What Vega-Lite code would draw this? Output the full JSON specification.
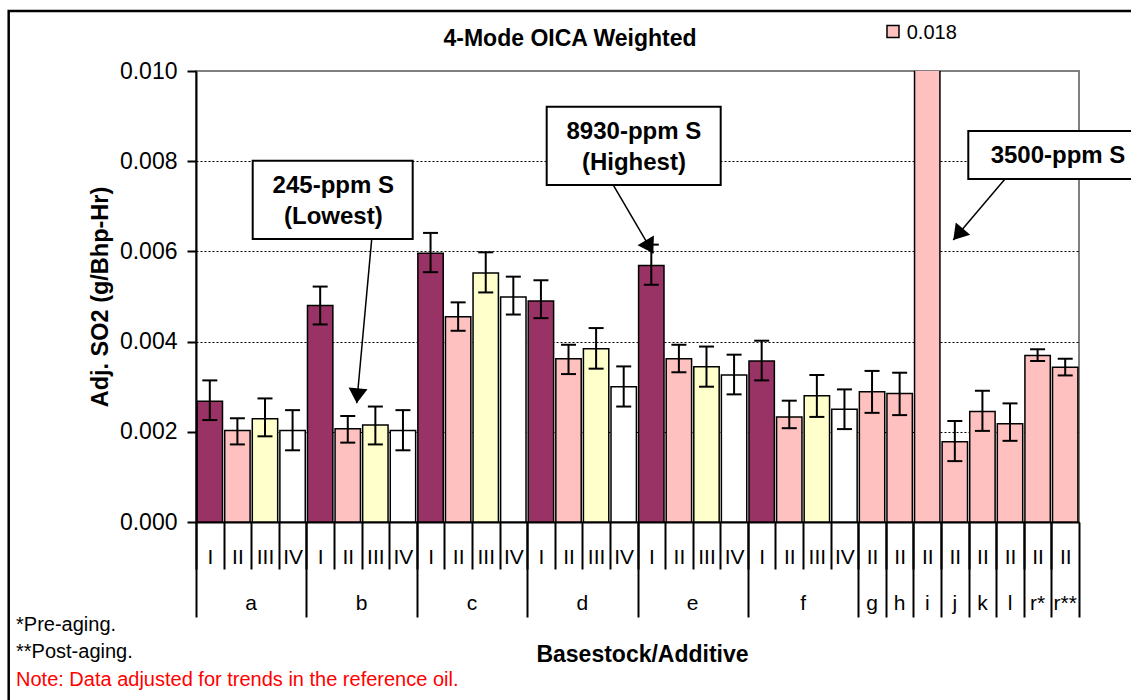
{
  "$schema": "https://vega.github.io/schema/vega-lite/v6.json",
  "width": 883,
  "height": 451,
  "autosize": {"type": "none"},
  "padding": {"left": 196, "top": 71, "right": 52, "bottom": 178},
  "background": "white",
  "title": {"text": "4-Mode OICA Weighted", "font": "Liberation Sans", "fontSize": 23, "fontWeight": "bold", "color": "black", "anchor": "middle", "frame": "group", "dx": -67.5, "baseline": "alphabetic", "offset": -59},
  "config": {
    "font": "Liberation Sans",
    "view": {"stroke": "#808080", "strokeWidth": 2},
    "axis": {"labelColor": "black", "titleColor": "black", "tickColor": "black", "domainColor": "black", "labelFont": "Liberation Sans", "titleFont": "Liberation Sans"}
  },
  "resolve": {"scale": {"x": "independent", "y": "independent"}},
  "layer": [
    {
      "data": {"values": [
        {"grp":"a","lvl":"I","bar":"a|I","v":0.00268,"lo":0.00226,"hi":0.00314},
        {"grp":"a","lvl":"II","bar":"a|II","v":0.00203,"lo":0.00172,"hi":0.00230},
        {"grp":"a","lvl":"III","bar":"a|III","v":0.00229,"lo":0.00190,"hi":0.00274},
        {"grp":"a","lvl":"IV","bar":"a|IV","v":0.00203,"lo":0.00159,"hi":0.00248},
        {"grp":"b","lvl":"I","bar":"b|I","v":0.00480,"lo":0.00438,"hi":0.00522},
        {"grp":"b","lvl":"II","bar":"b|II","v":0.00207,"lo":0.00176,"hi":0.00235},
        {"grp":"b","lvl":"III","bar":"b|III","v":0.00215,"lo":0.00172,"hi":0.00256},
        {"grp":"b","lvl":"IV","bar":"b|IV","v":0.00203,"lo":0.00159,"hi":0.00248},
        {"grp":"c","lvl":"I","bar":"c|I","v":0.00596,"lo":0.00554,"hi":0.00641},
        {"grp":"c","lvl":"II","bar":"c|II","v":0.00455,"lo":0.00424,"hi":0.00487},
        {"grp":"c","lvl":"III","bar":"c|III","v":0.00552,"lo":0.00509,"hi":0.00598},
        {"grp":"c","lvl":"IV","bar":"c|IV","v":0.00499,"lo":0.00460,"hi":0.00544},
        {"grp":"d","lvl":"I","bar":"d|I","v":0.00490,"lo":0.00452,"hi":0.00536},
        {"grp":"d","lvl":"II","bar":"d|II","v":0.00362,"lo":0.00328,"hi":0.00393},
        {"grp":"d","lvl":"III","bar":"d|III","v":0.00384,"lo":0.00340,"hi":0.00430},
        {"grp":"d","lvl":"IV","bar":"d|IV","v":0.00300,"lo":0.00256,"hi":0.00345},
        {"grp":"e","lvl":"I","bar":"e|I","v":0.00569,"lo":0.00526,"hi":0.00615},
        {"grp":"e","lvl":"II","bar":"e|II","v":0.00362,"lo":0.00332,"hi":0.00393},
        {"grp":"e","lvl":"III","bar":"e|III","v":0.00344,"lo":0.00300,"hi":0.00389},
        {"grp":"e","lvl":"IV","bar":"e|IV","v":0.00326,"lo":0.00283,"hi":0.00371},
        {"grp":"f","lvl":"I","bar":"f|I","v":0.00357,"lo":0.00314,"hi":0.00402},
        {"grp":"f","lvl":"II","bar":"f|II","v":0.00233,"lo":0.00208,"hi":0.00269},
        {"grp":"f","lvl":"III","bar":"f|III","v":0.00280,"lo":0.00233,"hi":0.00326},
        {"grp":"f","lvl":"IV","bar":"f|IV","v":0.00250,"lo":0.00206,"hi":0.00294},
        {"grp":"g","lvl":"II","bar":"g|II","v":0.00289,"lo":0.00242,"hi":0.00335},
        {"grp":"h","lvl":"II","bar":"h|II","v":0.00285,"lo":0.00237,"hi":0.00331},
        {"grp":"i","lvl":"II","bar":"i|II","v":0.018},
        {"grp":"j","lvl":"II","bar":"j|II","v":0.00178,"lo":0.00135,"hi":0.00224},
        {"grp":"k","lvl":"II","bar":"k|II","v":0.00245,"lo":0.00202,"hi":0.00291},
        {"grp":"l","lvl":"II","bar":"l|II","v":0.00218,"lo":0.00180,"hi":0.00263},
        {"grp":"r*","lvl":"II","bar":"r*|II","v":0.00369,"lo":0.00357,"hi":0.00383},
        {"grp":"r**","lvl":"II","bar":"r**|II","v":0.00343,"lo":0.00325,"hi":0.00362}
      ]},
      "resolve": {"axis": {"x": "independent"}},
      "layer": [
        {
          "mark": {"type": "bar", "stroke": "black", "strokeWidth": 1.5, "clip": true},
          "encoding": {
            "x": {"field": "bar", "type": "nominal", "sort": null,
              "scale": {"type": "band", "paddingInner": 0.08, "paddingOuter": 0.04},
              "axis": {"orient": "bottom", "bandPosition": 0, "tickOffset": -1.1, "ticks": true, "tickSize": 47, "tickWidth": 2, "domain": true, "domainWidth": 2, "grid": false,
                "labels": true, "labelExpr": "split(datum.value,'|')[1]", "labelFontSize": 21, "labelAngle": 0, "labelBaseline": "alphabetic", "labelPadding": -6, "labelOffset": 1.1, "labelOverlap": false, "labelBound": false, "labelFlush": false, "title": null}},
            "y": {"field": "v", "type": "quantitative",
              "scale": {"domain": [0, 0.01], "nice": false},
              "axis": {"orient": "left", "values": [0, 0.002, 0.004, 0.006, 0.008, 0.01], "format": ".3f", "tickSize": 9, "tickWidth": 2, "domainWidth": 2,
                "labelFontSize": 23, "labelPadding": 10,
                "grid": true, "gridColor": "black", "gridWidth": 1, "gridDash": [2, 2],
                "gridOpacity": {"condition": {"test": "datum.value < 0.001 || datum.value > 0.009", "value": 0}, "value": 1},
                "title": "Adj. SO2 (g/Bhp-Hr)", "titleFontSize": 23.5, "titleFontWeight": "bold", "titlePadding": 7}},
            "fill": {"field": "lvl", "type": "nominal",
              "scale": {"domain": ["I", "II", "III", "IV"], "range": ["#993366", "#FFC0C0", "#FFFFCC", "#FFFFFF"]},
              "legend": null}
          }
        },
        {
          "mark": {"type": "rule", "color": "black", "strokeWidth": 2},
          "encoding": {
            "x": {"field": "bar", "type": "nominal", "sort": null,
              "scale": {"type": "band", "paddingInner": 0.08, "paddingOuter": 0.04},
              "axis": {"orient": "bottom", "values": ["a|I","b|I","c|I","d|I","e|I","f|I","g|II","h|II","i|II","j|II","k|II","l|II","r*|II","r**|II"],
                "bandPosition": 0, "tickOffset": -1.1, "ticks": true, "tickSize": 95, "tickWidth": 2, "domain": false, "labels": false, "grid": false, "title": null}},
            "y": {"field": "lo", "type": "quantitative"},
            "y2": {"field": "hi"}
          }
        },
        {
          "mark": {"type": "tick", "color": "black", "thickness": 2, "size": 15, "opacity": 1},
          "encoding": {
            "x": {"field": "bar", "type": "nominal", "sort": null,
              "scale": {"type": "band", "paddingInner": 0.08, "paddingOuter": 0.04},
              "axis": {"orient": "bottom", "values": ["r**|II"], "bandPosition": 1, "tickOffset": 1.1, "ticks": true, "tickSize": 95, "tickWidth": 2, "domain": false, "labels": false, "grid": false,
                "title": "Basestock/Additive", "titleFontSize": 23, "titleFontWeight": "bold", "titleX": 446, "titleY": 139, "titleBaseline": "alphabetic", "titleAlign": "center", "titleAnchor": null}},
            "y": {"field": "lo", "type": "quantitative"}
          }
        },
        {
          "mark": {"type": "tick", "color": "black", "thickness": 2, "size": 15, "opacity": 1},
          "encoding": {
            "x": {"field": "bar", "type": "nominal", "sort": null,
              "scale": {"type": "band", "paddingInner": 0.08, "paddingOuter": 0.04},
              "axis": {"orient": "bottom", "values": ["a|III","b|III","c|III","d|III","e|III","f|III","g|II","h|II","i|II","j|II","k|II","l|II","r*|II","r**|II"],
                "bandPosition": 0, "ticks": false, "domain": false, "grid": false, "title": null,
                "labels": true, "labelExpr": "split(datum.value,'|')[0]", "labelFontSize": 21, "labelAngle": 0, "labelBaseline": "alphabetic", "labelPadding": 87,
                "labelOffset": {"condition": {"test": "indexof(['a','b','c','d','e','f'], split(datum.value,'|')[0]) >= 0", "value": -13.8}, "value": 0},
                "labelOverlap": false, "labelBound": false, "labelFlush": false}},
            "y": {"field": "hi", "type": "quantitative"}
          }
        }
      ]
    },
    {
      "data": {"values": [{}]},
      "layer": [
        {
          "mark": {"type": "rect", "fillOpacity": 0, "stroke": "black", "strokeWidth": 2.5},
          "encoding": {
            "x": {"datum": -6.788, "type": "quantitative", "scale": {"domain": [0, 32], "nice": false, "zero": false}, "axis": null},
            "x2": {"datum": 34.5},
            "y": {"datum": 0.01133, "type": "quantitative", "scale": {"domain": [0, 0.01], "nice": false, "zero": false}, "axis": null},
            "y2": {"datum": -0.0045}
          }
        },
        {
          "mark": {"type": "rect", "fill": "white", "stroke": "black", "strokeWidth": 2},
          "encoding": {
            "x": {"datum": 2.055, "type": "quantitative", "axis": null},
            "x2": {"datum": 7.853},
            "y": {"datum": 0.008011, "type": "quantitative", "axis": null},
            "y2": {"datum": 0.006275}
          }
        },
        {
          "mark": {"type": "rect", "fill": "white", "stroke": "black", "strokeWidth": 2},
          "encoding": {
            "x": {"datum": 12.709, "type": "quantitative", "axis": null},
            "x2": {"datum": 19.015},
            "y": {"datum": 0.009208, "type": "quantitative", "axis": null},
            "y2": {"datum": 0.007472}
          }
        },
        {
          "mark": {"type": "rect", "fill": "white", "stroke": "black", "strokeWidth": 2},
          "encoding": {
            "x": {"datum": 27.988, "type": "quantitative", "axis": null},
            "x2": {"datum": 34.5},
            "y": {"datum": 0.00867, "type": "quantitative", "axis": null},
            "y2": {"datum": 0.007605}
          }
        },
        {
          "mark": {"type": "text", "fontSize": 24, "fontWeight": "bold", "align": "center", "baseline": "middle", "lineHeight": 31, "color": "black"},
          "encoding": {
            "x": {"datum": 4.976, "type": "quantitative", "axis": null},
            "y": {"datum": 0.00745, "type": "quantitative", "axis": null},
            "text": {"value": ["245-ppm S", "(Lowest)"]}
          }
        },
        {
          "mark": {"type": "text", "fontSize": 24, "fontWeight": "bold", "align": "center", "baseline": "middle", "lineHeight": 31, "color": "black"},
          "encoding": {
            "x": {"datum": 15.869, "type": "quantitative", "axis": null},
            "y": {"datum": 0.008643, "type": "quantitative", "axis": null},
            "text": {"value": ["8930-ppm S", "(Highest)"]}
          }
        },
        {
          "mark": {"type": "text", "fontSize": 24, "fontWeight": "bold", "align": "center", "baseline": "middle", "color": "black"},
          "encoding": {
            "x": {"datum": 31.239, "type": "quantitative", "axis": null},
            "y": {"datum": 0.008115, "type": "quantitative", "axis": null},
            "text": {"value": "3500-ppm S"}
          }
        },
        {
          "mark": {"type": "rule", "color": "black", "strokeWidth": 1.5},
          "encoding": {
            "x": {"datum": 6.368, "type": "quantitative", "axis": null},
            "y": {"datum": 0.006275, "type": "quantitative", "axis": null},
            "x2": {"datum": 5.824},
            "y2": {"datum": 0.002632}
          }
        },
        {
          "mark": {"type": "rule", "color": "black", "strokeWidth": 1.5},
          "encoding": {
            "x": {"datum": 15.123, "type": "quantitative", "axis": null},
            "y": {"datum": 0.007472, "type": "quantitative", "axis": null},
            "x2": {"datum": 16.573},
            "y2": {"datum": 0.005958}
          }
        },
        {
          "mark": {"type": "rule", "color": "black", "strokeWidth": 1.5},
          "encoding": {
            "x": {"datum": 29.318, "type": "quantitative", "axis": null},
            "y": {"datum": 0.007605, "type": "quantitative", "axis": null},
            "x2": {"datum": 27.444},
            "y2": {"datum": 0.006253}
          }
        },
        {
          "mark": {"type": "point", "shape": "M0,0L-0.633,-1L0.633,-1Z", "size": 900, "filled": true, "color": "black", "opacity": 1, "angle": 5.2},
          "encoding": {
            "x": {"datum": 5.824, "type": "quantitative", "axis": null},
            "y": {"datum": 0.002632, "type": "quantitative", "axis": null}
          }
        },
        {
          "mark": {"type": "point", "shape": "M0,0L-0.633,-1L0.633,-1Z", "size": 900, "filled": true, "color": "black", "opacity": 1, "angle": -30.4},
          "encoding": {
            "x": {"datum": 16.573, "type": "quantitative", "axis": null},
            "y": {"datum": 0.005958, "type": "quantitative", "axis": null}
          }
        },
        {
          "mark": {"type": "point", "shape": "M0,0L-0.633,-1L0.633,-1Z", "size": 900, "filled": true, "color": "black", "opacity": 1, "angle": 40.3},
          "encoding": {
            "x": {"datum": 27.444, "type": "quantitative", "axis": null},
            "y": {"datum": 0.006253, "type": "quantitative", "axis": null}
          }
        },
        {
          "mark": {"type": "square", "size": 144, "filled": true, "fill": "#FFC0C0", "stroke": "black", "strokeWidth": 1.5, "opacity": 1},
          "encoding": {
            "x": {"datum": 25.259, "type": "quantitative", "axis": null},
            "y": {"datum": 0.010876, "type": "quantitative", "axis": null}
          }
        },
        {
          "mark": {"type": "text", "fontSize": 20, "align": "left", "baseline": "alphabetic", "color": "black"},
          "encoding": {
            "x": {"datum": 25.756, "type": "quantitative", "axis": null},
            "y": {"datum": 0.01071, "type": "quantitative", "axis": null},
            "text": {"value": "0.018"}
          }
        },
        {
          "mark": {"type": "text", "fontSize": 20, "align": "left", "baseline": "alphabetic", "color": "black"},
          "encoding": {
            "x": {"datum": -6.523, "type": "quantitative", "axis": null},
            "y": {"datum": -0.002417, "type": "quantitative", "axis": null},
            "text": {"value": "*Pre-aging."}
          }
        },
        {
          "mark": {"type": "text", "fontSize": 20, "align": "left", "baseline": "alphabetic", "color": "black"},
          "encoding": {
            "x": {"datum": -6.523, "type": "quantitative", "axis": null},
            "y": {"datum": -0.003016, "type": "quantitative", "axis": null},
            "text": {"value": "**Post-aging."}
          }
        },
        {
          "mark": {"type": "text", "fontSize": 20, "align": "left", "baseline": "alphabetic", "color": "#FF0000"},
          "encoding": {
            "x": {"datum": -6.523, "type": "quantitative", "axis": null},
            "y": {"datum": -0.003636, "type": "quantitative", "axis": null},
            "text": {"value": "Note:  Data adjusted for trends in the reference oil."}
          }
        }
      ]
    }
  ]
}
